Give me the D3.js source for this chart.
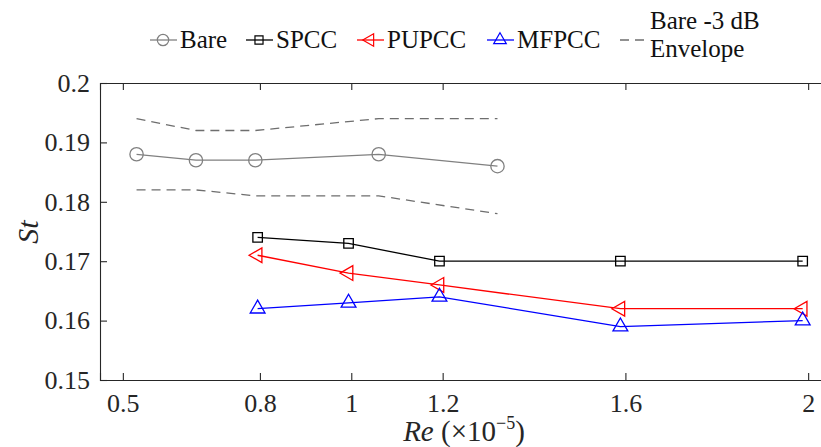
<!DOCTYPE html>
<html>
<head>
<meta charset="utf-8">
<script src="https://cdn.jsdelivr.net/npm/d3@7"></script>
</head>
<body style="margin:0;background:#fff">
<div id="chart"></div>
<script>
// data
const bareRe = [0.53, 0.66, 0.79, 1.06, 1.32];
const bareSt = [0.188, 0.187, 0.187, 0.188, 0.186];
const envUpper = [0.194, 0.192, 0.192, 0.194, 0.194];
const envLower = [0.182, 0.182, 0.181, 0.181, 0.178];

const caseRe = [0.795, 0.994, 1.193, 1.589, 1.988];
const spccSt = [0.174, 0.173, 0.170, 0.170, 0.170];
const pupccSt = [0.171, 0.168, 0.166, 0.162, 0.162];
const mfpccSt = [0.162, 0.163, 0.164, 0.159, 0.160];

const xTicks = [0.5, 0.8, 1, 1.2, 1.6, 2];
const yTicks = [0.15, 0.16, 0.17, 0.18, 0.19, 0.2];

const FONT = "'Liberation Serif', 'Times New Roman', serif";
const width = 821, height = 447;
const svg = d3.select("#chart").append("svg")
    .attr("width", width).attr("height", height)
    .style("font-family", FONT);

const x = d3.scaleLinear().domain([0.45, 2.05]).range([100, 831]);
const y = d3.scaleLinear().domain([0.15, 0.2]).range([380, 83]);

// axes box (left, bottom, top) with inward ticks
const axisColor = "#262626";
function styleAxis(g) {
    g.attr("font-family", null);
    g.select(".domain").attr("stroke", axisColor).attr("stroke-width", 1.1);
    g.selectAll("line").attr("stroke", axisColor).attr("stroke-width", 1.1);
    g.selectAll("text").attr("font-size", 26).attr("fill", "#262626").style("font-family", FONT);
}
svg.append("g").attr("transform", "translate(0,380)")
    .call(d3.axisBottom(x).tickValues(xTicks).tickSize(-7).tickPadding(14)
        .tickFormat(d3.format("~g")))
    .call(styleAxis);
svg.append("g").attr("transform", "translate(0,83)")
    .call(d3.axisTop(x).tickValues(xTicks).tickSize(-7).tickFormat(""))
    .call(styleAxis);
svg.append("g").attr("transform", "translate(100,0)")
    .call(d3.axisLeft(y).tickValues(yTicks).tickSize(-7).tickPadding(10)
        .tickFormat(d3.format("~g")))
    .call(styleAxis);

// axis labels
svg.append("text").attr("transform", "translate(38,232) rotate(-90)")
    .attr("text-anchor", "middle").attr("font-size", 30).attr("font-style", "italic")
    .style("font-family", FONT).attr("fill", "#262626")
    .text("St");
const xl = svg.append("text").attr("x", 464).attr("y", 441)
    .attr("text-anchor", "middle").attr("font-size", 29)
    .style("font-family", FONT).attr("fill", "#262626");
xl.append("tspan").attr("font-style", "italic").text("Re");
xl.append("tspan").text("\u00a0(×10");
xl.append("tspan").attr("font-size", 18).attr("dy", -12).text("−5");
xl.append("tspan").attr("dy", 12).text(")");

const line = d3.line().x(d => x(d[0])).y(d => y(d[1]));

function drawSeries(re, st, color, marker, dash) {
    const pts = re.map((r, i) => [r, st[i]]);
    svg.append("path").datum(pts).attr("d", line)
        .attr("fill", "none").attr("stroke", color).attr("stroke-width", 1.3)
        .attr("stroke-dasharray", dash || null);
    if (marker) {
        svg.append("g").selectAll("path").data(pts).enter().append("path")
            .attr("transform", d => `translate(${x(d[0])},${y(d[1])})` + (marker.rot ? ` rotate(${marker.rot})` : ""))
            .attr("d", marker.d)
            .attr("fill", "none").attr("stroke", color).attr("stroke-width", 1.3);
    }
}

const circleM = { d: d3.symbol(d3.symbolCircle, 140)() };
const squareM = { d: d3.symbol(d3.symbolSquare, 90)() };
const triUp = { d: d3.symbol(d3.symbolTriangle, 95)() };
const triLeft = { d: d3.symbol(d3.symbolTriangle, 95)(), rot: -90 };

drawSeries(bareRe, envUpper, "#6e6e6e", null, "9,6");
drawSeries(bareRe, envLower, "#6e6e6e", null, "9,6");
drawSeries(bareRe, bareSt, "#808080", circleM);
drawSeries(caseRe, spccSt, "#000000", squareM);
drawSeries(caseRe, pupccSt, "#ff0000", triLeft);
drawSeries(caseRe, mfpccSt, "#0000ff", triUp);

// legend
const legend = [
    { name: ["Bare"], color: "#808080", m: circleM, x: 150 },
    { name: ["SPCC"], color: "#000000", m: squareM, x: 246 },
    { name: ["PUPCC"], color: "#ff0000", m: triLeft, x: 357 },
    { name: ["MFPCC"], color: "#0000ff", m: triUp, x: 487 },
    { name: ["Bare -3 dB", "Envelope"], color: "#6e6e6e", dash: "9,6", x: 620 }
];
const lg = svg.append("g").selectAll("g").data(legend).enter().append("g");
lg.append("line").attr("x1", d => d.x).attr("x2", d => d.x + 27)
    .attr("y1", 40).attr("y2", 40)
    .attr("stroke", d => d.color).attr("stroke-width", 1.3)
    .attr("stroke-dasharray", d => d.dash || null);
lg.filter(d => d.m).append("path")
    .attr("transform", d => `translate(${d.x + 13},40) scale(0.85)` + (d.m.rot ? ` rotate(${d.m.rot})` : ""))
    .attr("d", d => d.m.d).attr("fill", "none").attr("stroke", d => d.color).attr("stroke-width", 1.4);
lg.each(function(d) {
    const g = d3.select(this);
    const n = d.name.length;
    d.name.forEach((t, i) => {
        g.append("text").attr("x", d.x + 30).attr("y", 48 + (i - (n - 1) / 2) * 28 - (n > 1 ? 5 : 0))
            .attr("font-size", 25).style("font-family", FONT).attr("fill", "#111").text(t);
    });
});
</script>
</body>
</html>
